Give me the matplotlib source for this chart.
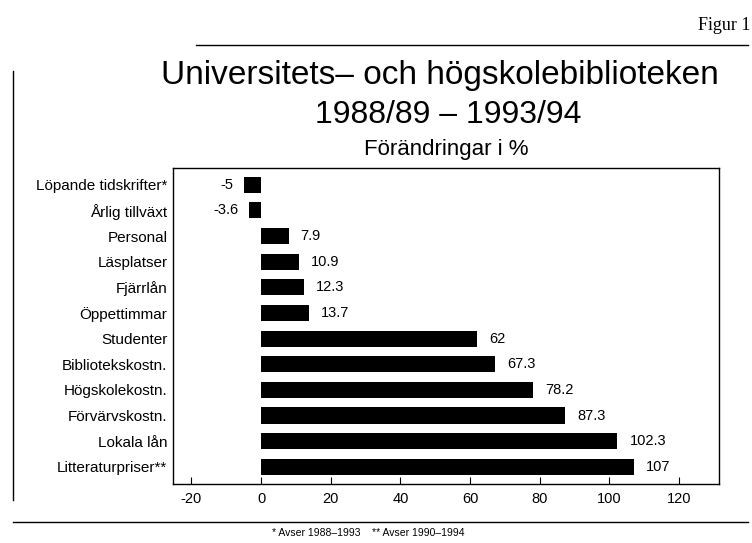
import matplotlib.pyplot as plt
from matplotlib.lines import Line2D

plt.rcParams['font.family'] = ['Liberation Sans', 'DejaVu Sans']

categories = ['Löpande tidskrifter*', 'Årlig tillväxt', 'Personal', 'Läsplatser',
              'Fjärrlån', 'Öppettimmar', 'Studenter', 'Bibliotekskostn.',
              'Högskolekostn.', 'Förvärvskostn.', 'Lokala lån', 'Litteraturpriser**']
values = [-5, -3.6, 7.9, 10.9, 12.3, 13.7, 62, 67.3, 78.2, 87.3, 102.3, 107]
value_labels = ['-5', '-3.6', '7.9', '10.9', '12.3', '13.7', '62', '67.3',
                '78.2', '87.3', '102.3', '107']
xticks = [-20, 0, 20, 40, 60, 80, 100, 120]

fig = plt.figure(figsize=(7.52, 5.43), dpi=100)
ax = fig.add_axes([0.230, 0.109, 0.726, 0.582])

y = list(range(len(categories)))
ax.barh(y, values, height=0.63, color='black')
ax.set_ylim(len(categories) - 0.34, -0.66)
ax.set_xlim(-25.3, 131.5)

for yi, v, lab in zip(y, values, value_labels):
    if v < 0:
        ax.text(v - 3, yi, lab, ha='right', va='center', fontsize=10.5)
    else:
        ax.text(v + 3.5, yi, lab, ha='left', va='center', fontsize=10.5)

ax.set_yticks(y)
ax.set_yticklabels(categories, fontsize=11)
ax.tick_params(axis='y', length=0, pad=4)
ax.set_xticks(xticks)
ax.set_xticklabels([str(t) for t in xticks], fontsize=10.5)
ax.tick_params(axis='x', direction='in', length=5, pad=6)
for s in ax.spines.values():
    s.set_linewidth(1.0)

fig.text(0.585, 0.845, 'Universitets\u2013 och högskolebiblioteken', ha='center',
         va='baseline', fontsize=24)
fig.text(0.596, 0.773, '1988/89 \u2013 1993/94', ha='center', va='baseline',
         fontsize=23)
fig.text(0.593, 0.715, 'Förändringar i %', ha='center', va='baseline', fontsize=16)
fig.text(0.998, 0.953, 'Figur 1', ha='right', va='center', fontsize=13,
         family='Liberation Serif')
fig.text(0.49, 0.018, '* Avser 1988\u20131993    ** Avser 1990\u20131994',
         ha='center', va='center', fontsize=7.5)

# outer frame
fig.add_artist(Line2D([0.017, 0.017], [0.08, 0.87], color='black', lw=1))
fig.add_artist(Line2D([0.017, 0.995], [0.039, 0.039], color='black', lw=1))
fig.add_artist(Line2D([0.26, 0.995], [0.917, 0.917], color='black', lw=1))

fig.savefig('out.png', dpi=100)
